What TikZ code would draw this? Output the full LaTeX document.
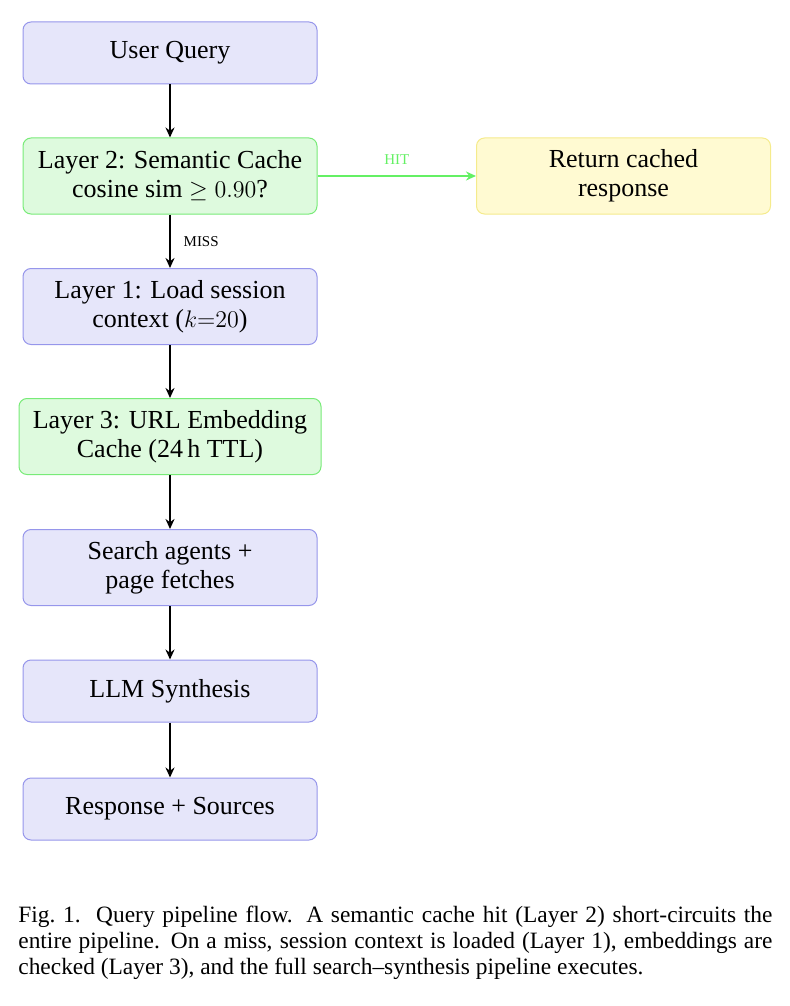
\documentclass[tikz,border=0pt]{standalone}
\usepackage{fontspec}
\setmainfont{Liberation Serif}
\usetikzlibrary{arrows.meta}
\definecolor{bfill}{RGB}{230,230,250}
\definecolor{bdraw}{RGB}{150,150,235}
\definecolor{gfill}{RGB}{222,250,222}
\definecolor{gdraw}{RGB}{120,235,120}
\definecolor{yfill}{RGB}{255,250,210}
\definecolor{ydraw}{RGB}{245,235,140}
\definecolor{hitc}{RGB}{100,240,100}
\begin{document}
\begin{tikzpicture}[x=0.5pt,y=-0.5pt,
  box/.style={draw, rounded corners=4pt, minimum width=147pt, minimum height=31pt, align=center, font=\fontsize{13}{14.5}\selectfont, inner sep=2pt, line width=0.5pt},
  bluebox/.style={box, fill=bfill, draw=bdraw},
  greenbox/.style={box, fill=gfill, draw=gdraw},
  yellowbox/.style={box, fill=yfill, draw=ydraw},
  arr/.style={-{Stealth[length=5pt,width=4.5pt]}, line width=1pt}]
\useasboundingbox (0,0) rectangle (790,1006);
\node[bluebox] (q) at (170,53) {User Query};
\node[greenbox, minimum height=38pt] (l2) at (170,176) {Layer 2: Semantic Cache\\cosine sim $\geq 0.90$?};
\node[yellowbox, minimum height=38pt] (ret) at (623.5,176) {Return cached\\response};
\node[bluebox, minimum height=38pt] (l1) at (170,306.5) {Layer 1: Load session\\context ($k{=}20$)};
\node[greenbox, minimum height=38pt, minimum width=151pt] (l3) at (170,436.5) {Layer 3: URL Embedding\\Cache (24\,h TTL)};
\node[bluebox, minimum height=38pt] (s) at (170,567.5) {Search agents +\\page fetches};
\node[bluebox] (llm) at (170,691) {LLM Synthesis};
\node[bluebox] (r) at (170,809) {Response + Sources};
\draw[arr] (q) -- (l2);
\draw[arr] (l2) -- node[right, font=\fontsize{7.5}{9}\selectfont, xshift=3pt]{MISS} (l1);
\draw[arr, draw=hitc, fill=hitc, line width=0.8pt] (l2) -- node[above, text=hitc, font=\fontsize{7.5}{9}\selectfont, yshift=2pt]{HIT} (ret);
\draw[arr] (l1) -- (l3);
\draw[arr] (l3) -- (s);
\draw[arr] (s) -- (llm);
\draw[arr] (llm) -- (r);
\node[anchor=north west, text width=377pt, align=justify, inner sep=0pt, font=\fontsize{11.7}{13}\selectfont] (cap) at (18,906) {Fig.~1.\ \ Query pipeline flow. A semantic cache hit (Layer 2) short-circuits the entire pipeline. On a miss, session context is loaded (Layer 1), embeddings are checked (Layer 3), and the full search--synthesis pipeline executes.};
\end{tikzpicture}
\end{document}
